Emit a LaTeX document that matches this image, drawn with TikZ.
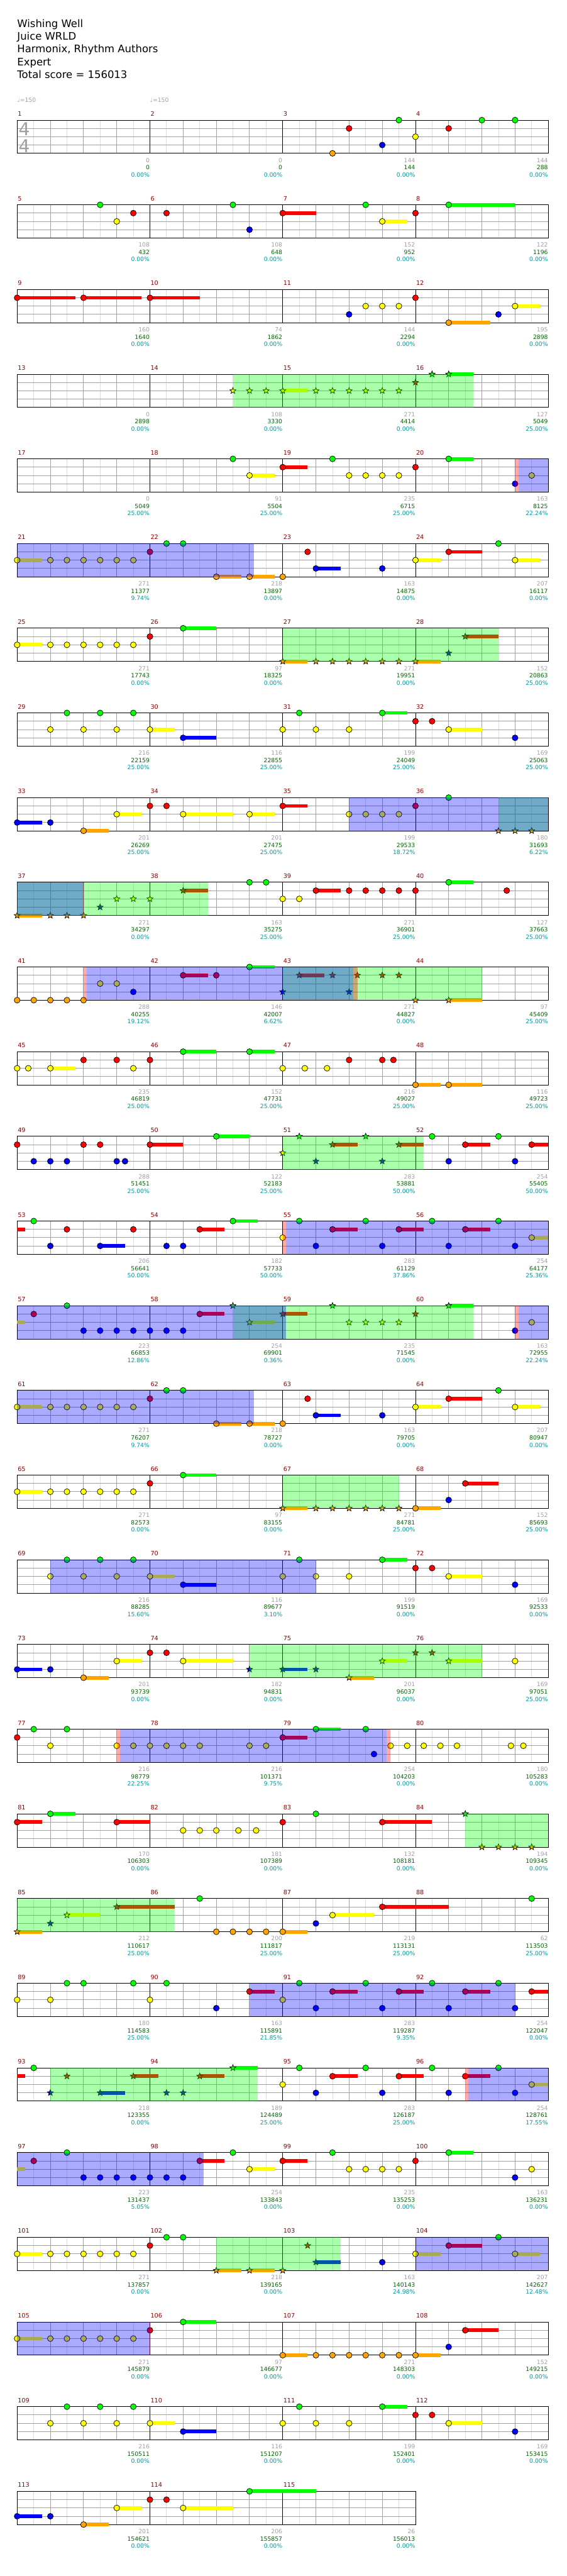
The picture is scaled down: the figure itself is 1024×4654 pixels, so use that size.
\documentclass[tikz,border=0pt]{standalone}
\usepackage{fontspec}
\setmainfont{DejaVu Sans}
\definecolor{gemgreen}{HTML}{00FF00}
\definecolor{gemred}{HTML}{FF0000}
\definecolor{gemyellow}{HTML}{FFFF00}
\definecolor{gemblue}{HTML}{0000FF}
\definecolor{gemorange}{HTML}{FFA500}
\colorlet{lane0}{gemgreen}
\colorlet{lane1}{gemred}
\colorlet{lane2}{gemyellow}
\colorlet{lane3}{gemblue}
\colorlet{lane4}{gemorange}
\definecolor{gridlight}{HTML}{DCDCDC}
\definecolor{gridmid}{HTML}{A0A0A0}
\definecolor{numred}{HTML}{8B0000}
\definecolor{sumgreen}{HTML}{006400}
\definecolor{pctteal}{HTML}{009999}

% one row = 4 measures of 8 eighths (30px each), lanes 15px apart
\newcommand\starpts{+(90:5.8pt) -- +(126:2.5pt) -- +(162:5.8pt) -- +(198:2.5pt) -- +(234:5.8pt) -- +(270:2.5pt) -- +(306:5.8pt) -- +(342:2.5pt) -- +(18:5.8pt) -- +(54:2.5pt) -- cycle}
\newcommand\gem[4]{%
  \pgfmathsetmacro\gx{31+30*#2}%
  \pgfmathsetmacro\gy{217+153*(#1-1)+15*#3}%
  \ifdim #4pt>#2pt
    \pgfmathsetmacro\gz{31+30*#4}%
    \fill[lane#3] (\gx,\gy-3.3) rectangle (\gz,\gy+3.3);
  \fi
  \draw[gemedge, fill=lane#3] (\gx,\gy) circle[radius=5.3pt];}
\newcommand\sgem[4]{%
  \pgfmathsetmacro\gx{31+30*#2}%
  \pgfmathsetmacro\gy{217+153*(#1-1)+15*#3}%
  \ifdim #4pt>#2pt
    \pgfmathsetmacro\gz{31+30*#4}%
    \fill[lane#3] (\gx,\gy-3.3) rectangle (\gz,\gy+3.3);
  \fi
  \draw[gemedge, fill=lane#3] (\gx,\gy) \starpts;}
\newcommand\gems[2]{\foreach \xa/\la/\xb in {#2}{\gem{#1}{\xa}{\la}{\xb}}}
\newcommand\stars[2]{\foreach \xa/\la/\xb in {#2}{\sgem{#1}{\xa}{\la}{\xb}}}
\newcommand\holdtail[4]{% row, lane, from, to
  \fill[lane#2] ({31+30*#3},{217+153*(#1-1)+15*#2-3.3}) rectangle ({31+30*#4},{217+153*(#1-1)+15*#2+3.3});}
\newcommand\zone[4]{%
  \fill[#1] ({31+30*#3},{217+153*(#2-1)}) rectangle ({31+30*#4},{277+153*(#2-1)});}

% repeated riffs
\newcommand\yelrun[1]{\gems{#1}{0/2/1.5, 2/2/0, 3/2/0, 4/2/0, 5/2/0, 6/2/0, 7/2/0, 8/1/0}}
\newcommand\riffA[1]{\yelrun{#1}
  \gems{#1}{9/0/0, 10/0/0, 12/4/13.5, 14/4/15.5, 16/4/0, 17.5/1/0, 18/3/19.5, 22/3/0, 24/2/25.5, 26/1/28, 29/0/0, 30/2/31.5}}
\newcommand\riffB[1]{\gems{#1}{2/2/0, 3/0/0, 4/2/0, 5/0/0, 6/2/0, 7/0/0, 8/2/9.5, 10/3/12, 16/2/0, 17/0/0, 18/2/0, 20/2/0, 22/0/23.5, 24/1/0, 25/1/0, 26/2/28, 30/3/0}}
\newcommand\riffC[1]{\gems{#1}{0/3/1.5, 2/3/0, 4/4/5.5, 6/2/7.5, 8/1/0, 9/1/0, 10/2/13}}
\newcommand\riffD[1]{\gems{#1}{16/2/0, 17/0/0, 18/3/0, 19/1/20.5, 21/0/0, 22/3/0, 23/1/24.5, 25/0/0, 26/3/0, 27/1/28.5, 29/0/0, 30/3/0}}

\begin{document}
\begin{tikzpicture}[x=1pt, y=-1pt,
  eighthline/.style={draw=gridlight, line width=1pt},
  beatline/.style={draw=gridmid, line width=1pt},
  laneline/.style={draw=gridmid, line width=1pt},
  barline/.style={draw=black, line width=1pt},
  gemedge/.style={draw=black, line width=0.8pt},
  spzone/.style={fill=gemgreen, fill opacity=0.333},
  actzone/.style={fill=gemblue, fill opacity=0.333},
  actmark/.style={fill=gemred, fill opacity=0.333},
  hdrtxt/.style={anchor=base west, inner sep=0pt, font=\fontsize{18.7}{23}\selectfont},
  tempo/.style={anchor=base west, inner sep=0pt, text=gridmid, font=\fontsize{10.5}{12}\selectfont},
  tsig/.style={anchor=base west, inner sep=0pt, text=gridmid, font=\fontsize{32}{36}\selectfont},
  mnum/.style={anchor=base west, inner sep=0pt, text=numred, font=\fontsize{11}{12}\selectfont},
  scoretxt/.style={anchor=base east, inner sep=0pt, text=gridmid, font=\fontsize{10.5}{12}\selectfont},
  sumtxt/.style={scoretxt, text=sumgreen},
  pcttxt/.style={scoretxt, text=pctteal}
]
  \fill[white] (0,0) rectangle (1024,4654);
  \useasboundingbox (0,0) rectangle (1024,4654);

  \node[hdrtxt] (title) at (31,49.3) {Wishing Well};
  \node[hdrtxt] (artist) at (31,72.3) {Juice WRLD};
  \node[hdrtxt] (charter) at (31,95.3) {Harmonix, Rhythm Authors};
  \node[hdrtxt] (level) at (31,118.3) {Expert};
  \node[hdrtxt] (total) at (31,141.3) {Total score = 156013};

  \node[tempo] (bpm1) at (31,184.3) {♩=150};
  \node[tempo] (bpm2) at (271,184.3) {♩=150};

  % staff grid
  \foreach \r in {1,...,29}{
    \pgfmathsetmacro\ry{217+153*(\r-1)}
    \pgfmathtruncatemacro\nm{\r<29 ? 4 : 3}
    \pgfmathsetmacro\rx{31+240*\nm}
    \pgfmathtruncatemacro\ne{8*\nm}
    \foreach \e in {1,3,...,\ne} \draw[eighthline] ({31+30*\e},\ry) -- ++(0,60);
    \foreach \e in {2,4,...,\ne} \draw[beatline] ({31+30*\e},\ry) -- ++(0,60);
    \foreach \k in {1,2,3} \draw[laneline] (31,\ry+15*\k) -- (\rx,\ry+15*\k);
    \foreach \k in {1,...,\nm} \draw[barline] ({31+240*\k},\ry) -- ++(0,60);
    \draw[barline] (31,\ry) rectangle (\rx,\ry+60);
  }
  \node[tsig] (tsig1) at (33.5,245) {4};
  \node[tsig] (tsig2) at (33.5,275) {4};

  % measure numbers and scores
  \foreach \m/\a/\b/\c in {1/0/0/0.00, 2/0/0/0.00, 3/144/144/0.00, 4/144/288/0.00,
    5/108/432/0.00, 6/108/648/0.00, 7/152/952/0.00, 8/122/1196/0.00,
    9/160/1640/0.00, 10/74/1862/0.00, 11/144/2294/0.00, 12/195/2898/0.00,
    13/0/2898/0.00, 14/108/3330/0.00, 15/271/4414/0.00, 16/127/5049/25.00,
    17/0/5049/25.00, 18/91/5504/25.00, 19/235/6715/25.00, 20/163/8125/22.24,
    21/271/11377/9.74, 22/218/13897/0.00, 23/163/14875/0.00, 24/207/16117/0.00,
    25/271/17743/0.00, 26/97/18325/0.00, 27/271/19951/0.00, 28/152/20863/25.00,
    29/216/22159/25.00, 30/116/22855/25.00, 31/199/24049/25.00, 32/169/25063/25.00,
    33/201/26269/25.00, 34/201/27475/25.00, 35/199/29533/18.72, 36/180/31693/6.22,
    37/271/34297/0.00, 38/163/35275/25.00, 39/271/36901/25.00, 40/127/37663/25.00,
    41/288/40255/19.12, 42/146/42007/6.62, 43/271/44827/0.00, 44/97/45409/25.00,
    45/235/46819/25.00, 46/152/47731/25.00, 47/216/49027/25.00, 48/116/49723/25.00,
    49/288/51451/25.00, 50/122/52183/25.00, 51/283/53881/50.00, 52/254/55405/50.00,
    53/206/56641/50.00, 54/182/57733/50.00, 55/283/61129/37.86, 56/254/64177/25.36,
    57/223/66853/12.86, 58/254/69901/0.36, 59/235/71545/0.00, 60/163/72955/22.24,
    61/271/76207/9.74, 62/218/78727/0.00, 63/163/79705/0.00, 64/207/80947/0.00,
    65/271/82573/0.00, 66/97/83155/0.00, 67/271/84781/25.00, 68/152/85693/25.00,
    69/216/88285/15.60, 70/116/89677/3.10, 71/199/91519/0.00, 72/169/92533/0.00,
    73/201/93739/0.00, 74/182/94831/0.00, 75/201/96037/0.00, 76/169/97051/25.00,
    77/216/98779/22.25, 78/216/101371/9.75, 79/254/104203/0.00, 80/180/105283/0.00,
    81/170/106303/0.00, 82/181/107389/0.00, 83/132/108181/0.00, 84/194/109345/0.00,
    85/212/110617/25.00, 86/200/111817/25.00, 87/219/113131/25.00, 88/62/113503/25.00,
    89/180/114583/25.00, 90/163/115891/21.85, 91/283/119287/9.35, 92/254/122047/0.00,
    93/218/123355/0.00, 94/189/124489/25.00, 95/283/126187/25.00, 96/254/128761/17.55,
    97/223/131437/5.05, 98/254/133843/0.00, 99/235/135253/0.00, 100/163/136231/0.00,
    101/271/137857/0.00, 102/218/139165/0.00, 103/163/140143/24.98, 104/207/142627/12.48,
    105/271/145879/0.00, 106/97/146677/0.00, 107/271/148303/0.00, 108/152/149215/0.00,
    109/216/150511/0.00, 110/116/151207/0.00, 111/199/152401/0.00, 112/169/153415/0.00,
    113/201/154621/0.00, 114/206/155857/0.00, 115/26/156013/0.00}{
    \pgfmathtruncatemacro\rr{div(\m-1,4)}
    \pgfmathtruncatemacro\cc{mod(\m-1,4)}
    \pgfmathsetmacro\ry{217+153*\rr}
    \pgfmathsetmacro\mx{31+240*(\cc+1)-0.5}
    \node[mnum] (mn\m) at ({32+240*\cc},\ry-7.3) {\m};
    \node[scoretxt] (sc\m) at (\mx,\ry+76.3) {\a};
    \node[sumtxt] (cs\m) at (\mx,\ry+89.5) {\b};
    \node[pcttxt] (pc\m) at (\mx,\ry+102.5) {\c\%};
  }

  % notes
  \gems{1}{19/4/0, 20/1/0, 22/3/0, 23/0/0, 24/2/0, 26/1/0, 28/0/0, 30/0/0}
  \gems{2}{5/0/0, 6/2/0, 7/1/0, 9/1/0, 13/0/0, 14/3/0, 16/1/18, 21/0/0, 22/2/23.5, 24/1/0, 26/0/30}
  \gems{3}{0/1/3.5, 4/1/7.5, 8/1/11, 20/3/0, 21/2/0, 22/2/0, 23/2/0, 24/1/0, 26/4/28.5, 29/3/0, 30/2/31.5}
  \stars{4}{13/2/0, 14/2/0, 15/2/0, 16/2/17.5, 18/2/0, 19/2/0, 20/2/0, 21/2/0, 22/2/0, 23/2/0, 24/1/0, 25/0/0, 26/0/27.5}
  \gems{5}{13/0/0, 14/2/15.5, 16/1/17.5, 19/0/0, 20/2/0, 21/2/0, 22/2/0, 23/2/0, 24/1/0, 26/0/27.5, 30/3/0, 31/2/0}
  \riffA{6}
  \yelrun{7}
  \gems{7}{10/0/12}
  \stars{7}{16/4/17.5, 18/4/0, 19/4/0, 20/4/0, 21/4/0, 22/4/0, 23/4/0, 24/4/25.5, 26/3/0, 27/1/29}
  \riffB{8}
  \riffC{9}
  \gems{9}{14/2/15.5, 16/1/17.5, 20/2/0, 21/2/0, 22/2/0, 23/2/0, 24/1/0, 26/0/0}
  \stars{9}{29/4/0, 30/4/0, 31/4/0}
  \stars{10}{0/4/1.5, 2/4/0, 3/4/0, 4/4/0, 5/3/0, 6/2/0, 7/2/0, 8/2/0, 10/1/11.5}
  \gems{10}{14/0/0, 15/0/0, 16/2/0, 17/2/0, 18/1/19.5, 20/1/0, 21/1/0, 22/1/0, 23/1/0, 24/1/0, 26/0/27.5, 29.5/1/0}
  \gems{11}{0/4/0, 1/4/0, 2/4/0, 3/4/0, 4/4/0, 5/2/0, 6/2/0, 7/3/0, 10/1/11.5, 12/1/0, 14/0/15.5}
  \stars{11}{16/3/0, 17/1/18.5, 19/1/0, 20/3/0, 20.5/1/0, 22/1/0, 23/1/0, 24/4/0, 26/4/28}
  \gems{12}{0/2/0, 0.67/2/0, 2/2/3.5, 4/1/0, 6/1/0, 7/2/0, 8/1/0, 10/0/12, 14/0/15.5, 16/2/0, 17.33/2/0, 18.67/2/0, 20/1/0, 22/1/0, 22.67/1/0, 24/4/25.5, 26/4/28}
  \gems{13}{0/1/0, 1/3/0, 2/3/0, 3/3/0, 4/1/0, 5/1/0, 6/3/0, 6.5/3/0, 8/1/10, 12/0/14, 25/0/0, 26/3/0, 27/1/28.5, 29/0/0, 30/3/0, 31/1/32}
  \stars{13}{16/2/0, 17/0/0, 18/3/0, 19/1/20.5, 21/0/0, 22/3/0, 23/1/24.5}
  \holdtail{14}{1}{0}{0.5}
  \gems{14}{1/0/0, 2/3/0, 3/1/0, 5/3/6.5, 7/1/0, 9/3/0, 10/3/0, 11/1/12.5, 13/0/14.5, 31/2/32}
  \riffD{14}
  \holdtail{15}{2}{0}{0.5}
  \gems{15}{1/1/0, 3/0/0, 4/3/0, 5/3/0, 6/3/0, 7/3/0, 8/3/0, 9/3/0, 10/3/0, 11/1/12.5, 30/3/0, 31/2/0}
  \stars{15}{13/0/0, 14/2/15.5, 16/1/17.5, 19/0/0, 20/2/0, 21/2/0, 22/2/0, 23/2/0, 24/1/0, 26/0/27.5}
  \riffA{16}
  \yelrun{17}
  \gems{17}{10/0/12, 24/4/25.5, 26/3/0, 27/1/29}
  \stars{17}{16/4/17.5, 18/4/0, 19/4/0, 20/4/0, 21/4/0, 22/4/0, 23/4/0}
  \riffB{18}
  \riffC{19}
  \gems{19}{30/2/0}
  \stars{19}{14/3/0, 16/3/17.5, 18/3/0, 20/4/21.5, 22/2/23.5, 24/1/0, 25/1/0, 26/2/28}
  \gems{20}{0/1/0, 1/0/0, 2/2/0, 3/0/0, 6/2/0, 7/2/0, 8/2/0, 9/2/0, 10/2/0, 11/2/0, 14/2/0, 15/2/0, 16/1/17.5, 18/0/19.5, 21/0/0, 21.5/3/0, 22.5/2/0, 23.5/2/0, 24.5/2/0, 25.5/2/0, 26.5/2/0, 29.75/2/0, 30.5/2/0}
  \gems{21}{0/1/1.5, 2/0/3.5, 6/1/8, 10/2/0, 11/2/0, 12/2/0, 13.33/2/0, 14.4/2/0, 16/1/0, 18/0/0, 22/1/25}
  \stars{21}{27/0/0, 28/4/0, 29/4/0, 30/4/0, 31/4/0}
  \stars{22}{0/4/1.5, 2/3/0, 3/2/5, 6/1/9.5}
  \gems{22}{11/0/0, 12/4/0, 13/4/0, 14/4/0, 15/4/0, 16/4/17.5, 18/3/0, 19/2/21.5, 22/1/26, 31/0/0}
  \gems{23}{0/2/0, 2/2/0, 3/0/0, 4/0/0, 7/0/0, 8/2/0, 9/0/0, 12/3/0, 14/1/15.5, 31/1/32}
  \riffD{23}
  \holdtail{24}{1}{0}{0.5}
  \gems{24}{1/0/0, 31/2/32}
  \stars{24}{2/3/0, 3/1/0, 5/3/6.5, 7/1/8.5, 9/3/0, 10/3/0, 11/1/12.5, 13/0/14.5}
  \riffD{24}
  \holdtail{25}{2}{0}{0.5}
  \gems{25}{1/1/0, 3/0/0, 4/3/0, 5/3/0, 6/3/0, 7/3/0, 8/3/0, 9/3/0, 10/3/0, 11/1/12.5, 13/0/0, 14/2/15.5, 16/1/17.5, 19/0/0, 20/2/0, 21/2/0, 22/2/0, 23/2/0, 24/1/0, 26/0/27.5, 30/3/0, 31/2/0}
  \yelrun{26}
  \gems{26}{9/0/0, 10/0/0, 22/3/0, 24/2/25.5, 26/1/28, 29/0/0, 30/2/31.5}
  \stars{26}{12/4/13.5, 14/4/15.5, 16/4/0, 17.5/1/0, 18/3/19.5}
  \yelrun{27}
  \gems{27}{10/0/12, 16/4/17.5, 18/4/0, 19/4/0, 20/4/0, 21/4/0, 22/4/0, 23/4/0, 24/4/25.5, 26/3/0, 27/1/29}
  \riffB{28}
  \riffC{29}
  \gems{29}{14/0/18}

  % star power phrases, activations and activation marks
  \foreach \r/\xa/\xb in {4/13/27.5, 7/16/29, 9/29/32, 10/0/11.5, 11/16/28, 13/16/24.5,
    15/13/27.5, 17/16/23, 19/14/28, 21/27/32, 22/0/9.5, 24/2/14.5, 26/12/19.5}
    \zone{spzone}{\r}{\xa}{\xb};
  \foreach \r/\xa/\xb in {5/30.2/32, 6/0/14.25, 9/20/32, 10/0/4, 11/4.2/20.25, 14/16.2/32,
    15/0/16.2, 15/30.2/32, 16/0/14.25, 18/2/18, 20/6.2/22.25, 23/14/30, 24/27.2/32,
    25/0/11.25, 26/24/32, 27/0/8}
    \zone{actzone}{\r}{\xa}{\xb};
  \foreach \r/\xa/\xb in {5/30/30.2, 10/3.97/4.03, 11/4/4.2, 11/20.25/20.5, 14/16/16.2,
    15/30/30.2, 20/6/6.2, 20/22.25/22.5, 23/29.97/30.03, 24/27/27.2, 27/7.97/8.03}
    \zone{actmark}{\r}{\xa}{\xb};
\end{tikzpicture}
\end{document}
